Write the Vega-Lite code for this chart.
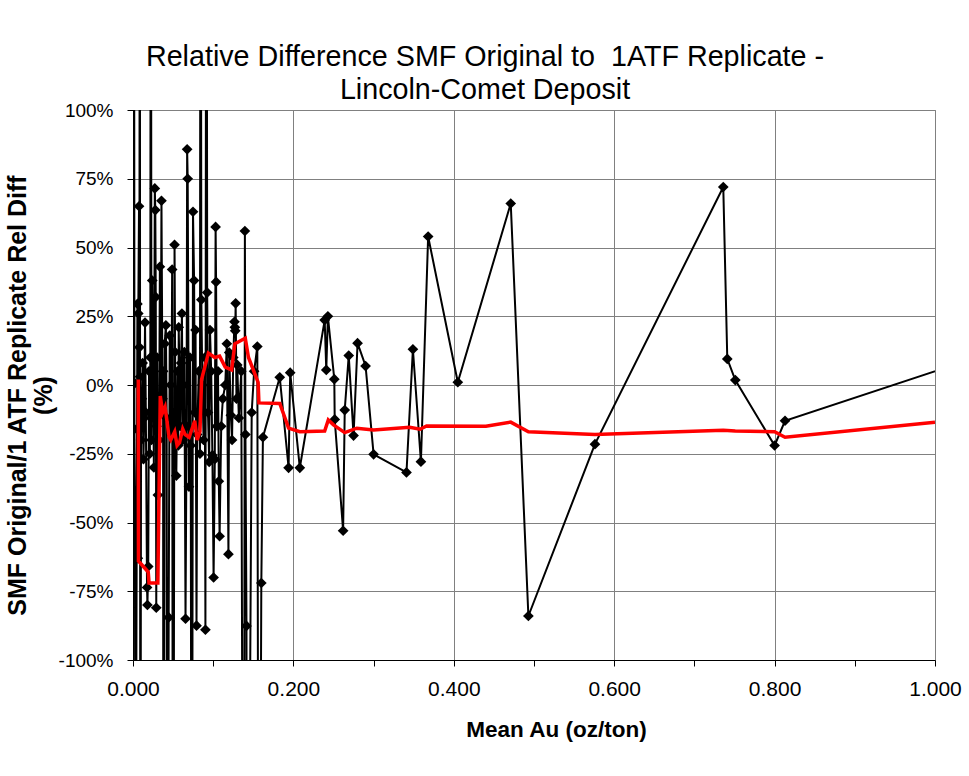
{
  "$schema": "https://vega.github.io/schema/vega-lite/v6.json",
  "width": 802,
  "height": 550,
  "autosize": {"type": "none"},
  "padding": {"left": 133, "top": 110, "right": 34, "bottom": 116},
  "background": "white",
  "config": {
    "font": "Liberation Sans",
    "view": {"stroke": "#808080", "strokeWidth": 1}
  },
  "title": {
    "text": ["Relative Difference SMF Original to \u00a01ATF Replicate -", "Lincoln-Comet Deposit"],
    "fontSize": 28.7,
    "fontWeight": "normal",
    "lineHeight": 33,
    "anchor": "middle",
    "frame": "group",
    "dx": -49,
    "offset": -4,
    "color": "black"
  },
  "datasets": {
    "diff": [
      {"x": 0.0000, "y": 0}, {"x": 0.0008, "y": 1}, {"x": 0.0012, "y": 260}, {"x": 0.0018, "y": -16},
      {"x": 0.0024, "y": -40}, {"x": 0.0030, "y": -220}, {"x": 0.0055, "y": 29.5}, {"x": 0.0060, "y": -63},
      {"x": 0.0066, "y": 26}, {"x": 0.0075, "y": 65}, {"x": 0.0080, "y": 13.7}, {"x": 0.0085, "y": 280},
      {"x": 0.0088, "y": 3}, {"x": 0.0092, "y": -240}, {"x": 0.0100, "y": -20}, {"x": 0.0110, "y": -5},
      {"x": 0.0120, "y": 8}, {"x": 0.0130, "y": -27}, {"x": 0.0140, "y": -12},
      {"x": 0.0150, "y": 22.7}, {"x": 0.0160, "y": -10}, {"x": 0.0175, "y": -73.6}, {"x": 0.0180, "y": -80},
      {"x": 0.0190, "y": -66}, {"x": 0.0200, "y": 5}, {"x": 0.0210, "y": -25}, {"x": 0.0216, "y": 10},
      {"x": 0.0222, "y": 300}, {"x": 0.0230, "y": -20}, {"x": 0.0240, "y": 38}, {"x": 0.0255, "y": -8},
      {"x": 0.0260, "y": -30},
      {"x": 0.0272, "y": 71.5}, {"x": 0.0278, "y": 63.6}, {"x": 0.0284, "y": 32}, {"x": 0.0290, "y": -81},
      {"x": 0.0295, "y": -15}, {"x": 0.0300, "y": 10}, {"x": 0.0310, "y": -40}, {"x": 0.0325, "y": -20},
      {"x": 0.0335, "y": 43}, {"x": 0.0345, "y": -8}, {"x": 0.0355, "y": 67},
      {"x": 0.0368, "y": -5}, {"x": 0.0375, "y": 5}, {"x": 0.0380, "y": -300}, {"x": 0.0395, "y": 15}, {"x": 0.0410, "y": 21.7},
      {"x": 0.0420, "y": -12},
      {"x": 0.0428, "y": -300}, {"x": 0.0445, "y": -84.5}, {"x": 0.0458, "y": 18}, {"x": 0.0470, "y": 0},
      {"x": 0.0478, "y": -18},
      {"x": 0.0488, "y": 42}, {"x": 0.0500, "y": -300}, {"x": 0.0518, "y": 51}, {"x": 0.0525, "y": 12}, {"x": 0.0530, "y": -10},
      {"x": 0.0540, "y": -33}, {"x": 0.0555, "y": 5}, {"x": 0.0565, "y": -22}, {"x": 0.0570, "y": 21}, {"x": 0.0590, "y": -15},
      {"x": 0.0600, "y": 8},
      {"x": 0.0610, "y": 26}, {"x": 0.0620, "y": -20}, {"x": 0.0630, "y": 0}, {"x": 0.0640, "y": 12}, {"x": 0.0655, "y": -85},
      {"x": 0.0668, "y": -15}, {"x": 0.0675, "y": 85.7},
      {"x": 0.0682, "y": 75}, {"x": 0.0698, "y": -37}, {"x": 0.0710, "y": 10}, {"x": 0.0720, "y": -22}, {"x": 0.0733, "y": -300},
      {"x": 0.0748, "y": 63}, {"x": 0.0762, "y": 38}, {"x": 0.0770, "y": -10}, {"x": 0.0780, "y": 20}, {"x": 0.0792, "y": -87.5},
      {"x": 0.0800, "y": -18}, {"x": 0.0820, "y": 5}, {"x": 0.0835, "y": -25}, {"x": 0.0842, "y": 300}, {"x": 0.0852, "y": 31}, {"x": 0.0865, "y": 0},
      {"x": 0.0880, "y": -20}, {"x": 0.0895, "y": 10},
      {"x": 0.0903, "y": -89}, {"x": 0.0915, "y": 300}, {"x": 0.0925, "y": 33.6}, {"x": 0.0935, "y": -10},
      {"x": 0.0950, "y": -28},
      {"x": 0.0960, "y": 20}, {"x": 0.0975, "y": 5}, {"x": 0.0990, "y": -25.5}, {"x": 0.1005, "y": -70}, {"x": 0.1020, "y": -27},
      {"x": 0.1030, "y": 57.5}, {"x": 0.1036, "y": 37.5}, {"x": 0.1045, "y": -15}, {"x": 0.1060, "y": 5}, {"x": 0.1070, "y": -35}, {"x": 0.1080, "y": -55},
      {"x": 0.1100, "y": -15}, {"x": 0.1120, "y": -5}, {"x": 0.1150, "y": 0}, {"x": 0.1170, "y": 15}, {"x": 0.1190, "y": -61.5}, {"x": 0.1200, "y": 11.8},
      {"x": 0.1220, "y": -11}, {"x": 0.1235, "y": -20}, {"x": 0.1250, "y": 10}, {"x": 0.1265, "y": 23}, {"x": 0.1270, "y": 21},
      {"x": 0.1275, "y": 19.7}, {"x": 0.1280, "y": 29.7}, {"x": 0.1290, "y": -5}, {"x": 0.1300, "y": 7.3},
      {"x": 0.1320, "y": -12}, {"x": 0.1350, "y": 5},
      {"x": 0.1380, "y": -300}, {"x": 0.1395, "y": 56}, {"x": 0.1402, "y": -18}, {"x": 0.1415, "y": -87.6},
      {"x": 0.1422, "y": -300}, {"x": 0.1480, "y": -10}, {"x": 0.1510, "y": 5},
      {"x": 0.1550, "y": 14}, {"x": 0.1570, "y": -300}, {"x": 0.1600, "y": -72},
      {"x": 0.1620, "y": -19}, {"x": 0.1830, "y": 2.8}, {"x": 0.1940, "y": -30.1}, {"x": 0.1960, "y": 4.5},
      {"x": 0.2080, "y": -30.1}, {"x": 0.2390, "y": 23.6}, {"x": 0.2410, "y": 5.5}, {"x": 0.2430, "y": 25},
      {"x": 0.2510, "y": 2.1}, {"x": 0.2515, "y": -12.5}, {"x": 0.2620, "y": -53}, {"x": 0.2640, "y": -9.1},
      {"x": 0.2690, "y": 10.7}, {"x": 0.2750, "y": -18.4}, {"x": 0.2800, "y": 15.2}, {"x": 0.2900, "y": 6.9},
      {"x": 0.3000, "y": -25.2}, {"x": 0.3410, "y": -31.8}, {"x": 0.3490, "y": 13}, {"x": 0.3590, "y": -27.9},
      {"x": 0.3680, "y": 54}, {"x": 0.4050, "y": 1}, {"x": 0.4710, "y": 66}, {"x": 0.4930, "y": -84},
      {"x": 0.5760, "y": -21.5}, {"x": 0.7360, "y": 72}, {"x": 0.7410, "y": 9.5}, {"x": 0.7510, "y": 1.8},
      {"x": 0.8000, "y": -22}, {"x": 0.8130, "y": -13}, {"x": 1.1000, "y": 14.6}
    ],
    "ma": [
      {"x": 0.0066, "y": 2}, {"x": 0.0068, "y": -64}, {"x": 0.0190, "y": -68}, {"x": 0.0200, "y": -72},
      {"x": 0.0310, "y": -72}, {"x": 0.0340, "y": -4}, {"x": 0.0370, "y": -10}, {"x": 0.0400, "y": -8},
      {"x": 0.0450, "y": -19}, {"x": 0.0470, "y": -20}, {"x": 0.0520, "y": -17}, {"x": 0.0550, "y": -22},
      {"x": 0.0580, "y": -21}, {"x": 0.0620, "y": -16}, {"x": 0.0650, "y": -18}, {"x": 0.0700, "y": -19},
      {"x": 0.0770, "y": -13}, {"x": 0.0800, "y": -20}, {"x": 0.0835, "y": -17}, {"x": 0.0855, "y": 2},
      {"x": 0.0940, "y": 11.6}, {"x": 0.1020, "y": 10}, {"x": 0.1080, "y": 10.5}, {"x": 0.1150, "y": 6.5},
      {"x": 0.1230, "y": 5.5}, {"x": 0.1270, "y": 15}, {"x": 0.1400, "y": 17}, {"x": 0.1440, "y": 10},
      {"x": 0.1560, "y": 1}, {"x": 0.1570, "y": -6.5}, {"x": 0.1830, "y": -6.7}, {"x": 0.1940, "y": -15.7},
      {"x": 0.2080, "y": -17}, {"x": 0.2390, "y": -16.7}, {"x": 0.2435, "y": -12.7}, {"x": 0.2500, "y": -14.5},
      {"x": 0.2640, "y": -17.3}, {"x": 0.2790, "y": -15.7}, {"x": 0.3000, "y": -16.4}, {"x": 0.3450, "y": -15.4},
      {"x": 0.3580, "y": -16.1}, {"x": 0.3660, "y": -14.9}, {"x": 0.4400, "y": -15}, {"x": 0.4710, "y": -13.5},
      {"x": 0.4930, "y": -17}, {"x": 0.5760, "y": -18}, {"x": 0.7360, "y": -16.5}, {"x": 0.7510, "y": -16.7},
      {"x": 0.8000, "y": -17}, {"x": 0.8130, "y": -19}, {"x": 1.0000, "y": -13.5}
    ]
  },
  "encoding": {
    "x": {
      "field": "x",
      "type": "quantitative",
      "scale": {"domain": [0, 1], "nice": false, "zero": false},
      "axis": {
        "values": [0, 0.1, 0.2, 0.3, 0.4, 0.5, 0.6, 0.7, 0.8, 0.9, 1.0],
        "labelExpr": "round(datum.value*10)%2==0 ? format(datum.value,'.3f') : ''",
        "labelFlush": false,
        "gridColor": "#808080",
        "gridOpacity": {"condition": {"test": "round(datum.value*10)%2==1", "value": 0}, "value": 1},
        "domainColor": "black",
        "tickColor": "black",
        "tickSize": 6,
        "labelFontSize": 21,
        "labelColor": "black",
        "labelPadding": 12,
        "title": "Mean Au (oz/ton)",
        "titleFontSize": 22.5,
        "titleFontWeight": "bold",
        "titleColor": "black",
        "titlePadding": 19,
        "titleX": 423
      }
    },
    "y": {
      "field": "y",
      "type": "quantitative",
      "scale": {"domain": [-100, 100], "nice": false, "zero": false},
      "axis": {
        "values": [-100, -75, -50, -25, 0, 25, 50, 75, 100],
        "labelExpr": "datum.value + '%'",
        "gridColor": "#808080",
        "domainColor": "black",
        "tickColor": "black",
        "tickSize": 6,
        "labelFontSize": 19,
        "labelColor": "black",
        "labelPadding": 14,
        "title": ["SMF Original/1 ATF Replicate Rel Diff", "(%)"],
        "titleFontSize": 25,
        "titleFontWeight": "bold",
        "titleColor": "black",
        "titleLineHeight": 26,
        "titlePadding": 2,
        "titleY": 285
      }
    }
  },
  "layer": [
    {
      "data": {"name": "diff"},
      "mark": {"type": "line", "color": "black", "strokeWidth": 2, "clip": true}
    },
    {
      "data": {"name": "diff"},
      "mark": {"type": "point", "shape": "diamond", "size": 115, "filled": true, "color": "black", "opacity": 1, "clip": true}
    },
    {
      "data": {"name": "ma"},
      "mark": {"type": "line", "color": "#ff0000", "strokeWidth": 3.5, "clip": true}
    }
  ]
}
